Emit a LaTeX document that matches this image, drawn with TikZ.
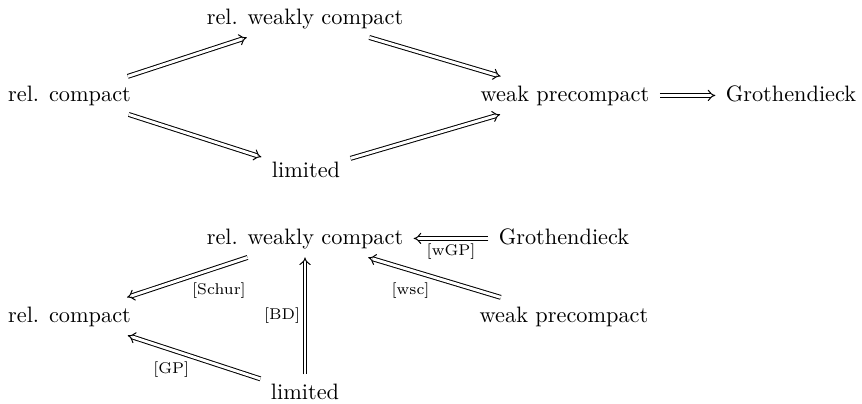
\documentclass[tikz,border=0pt]{standalone}
\usetikzlibrary{arrows.meta}
\begin{document}
\begin{tikzpicture}[x=0.4484pt,y=-0.4484pt,
  obj/.style={anchor=base, inner xsep=4.5pt, inner ysep=3.9pt, text height=6.94pt, text depth=1.94pt},
  imp/.style={double, double distance=1.3pt, line width=0.45pt, -{Implies}},
  lbl/.style={font=\scriptsize, inner sep=2pt}]
\useasboundingbox (0,0) rectangle (862,403);
% top diagram
\node[obj] (rc1)  at (69.5,101) {rel. compact};
\node[obj] (rwc1) at (305,24)   {rel. weakly compact};
\node[obj] (lim1) at (306,177)  {limited};
\node[obj] (wp1)  at (565,101)  {weak precompact};
\node[obj] (gro1) at (791,101)  {Grothendieck};
\draw[imp] (rc1) -- (rwc1);
\draw[imp] (rc1) -- (lim1);
\draw[imp] (rwc1) -- (wp1);
\draw[imp] (lim1) -- (wp1);
\draw[imp] (wp1) -- (gro1);
% bottom diagram
\node[obj] (rwc2) at (305,244)  {rel. weakly compact};
\node[obj] (gro2) at (564,244)  {Grothendieck};
\node[obj] (rc2)  at (69.5,322) {rel. compact};
\node[obj] (wp2)  at (564,322)  {weak precompact};
\node[obj] (lim2) at (305,399)  {limited};
\draw[imp] (rwc2) -- node[lbl, anchor=north west] {[Schur]} (rc2);
\draw[imp] (lim2) -- node[lbl, anchor=north east] {[GP]} (rc2);
\draw[imp] (lim2) -- node[lbl, anchor=east] {[BD]} (rwc2);
\draw[imp] (wp2) -- node[lbl, anchor=north east] {[wsc]} (rwc2);
\draw[imp] (gro2) -- node[lbl, anchor=north] {[wGP]} (rwc2);
\end{tikzpicture}
\end{document}
